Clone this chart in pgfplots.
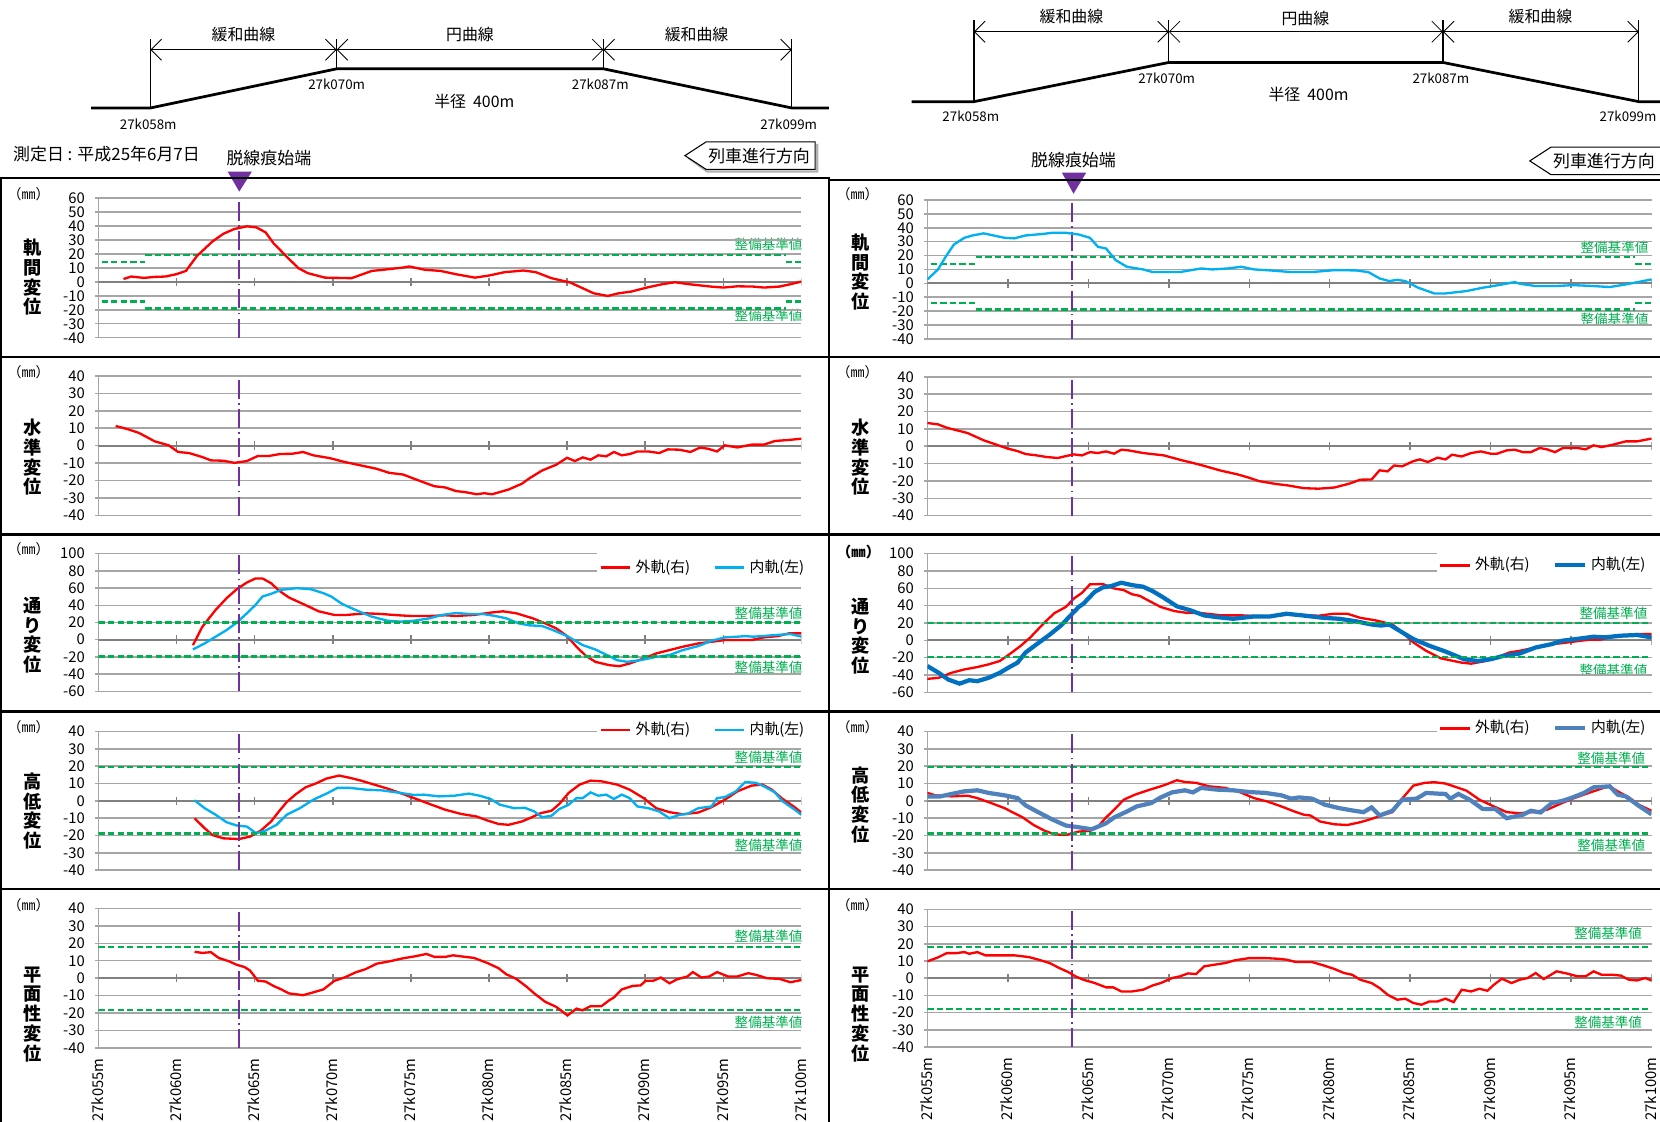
\documentclass[border=0pt]{standalone}
\usepackage{fontspec}
\setmainfont{Noto Sans CJK JP}
\usepackage{pgfplots}
\pgfplotsset{compat=1.18}
\usetikzlibrary{arrows.meta}

\definecolor{xred}{RGB}{255,0,0}
\definecolor{xcyan}{RGB}{0,176,240}
\definecolor{xblue}{RGB}{0,112,192}
\definecolor{xsteel}{RGB}{79,129,189}
\definecolor{xgreen}{RGB}{0,176,80}
\definecolor{xpurple}{RGB}{112,48,160}
\definecolor{xgrid}{RGB}{166,166,166}
\definecolor{xaxis}{RGB}{128,128,128}

\newcommand\fs[1]{\fontsize{#1}{#1}\selectfont}

\pgfplotsset{
  legend image code/.code={\draw[#1] (0pt,0pt) -- (14pt,0pt);},
  rail/.style={
    scale only axis, anchor=south west,
    xmin=55, xmax=100,
    axis y line*=left, axis x line*=bottom,
    x axis line style={draw=none},
    y axis line style={draw=xgrid, line width=0.7pt},
    xtick={55,60,...,100}, xticklabels={}, xtick style={draw=none},
    ymajorgrids, major grid style={draw=xgrid, line width=0.7pt},
    tick align=outside, major tick length=1.4pt,
    ytick style={draw=xgrid, line width=0.7pt},
    yticklabel style={font=\fs{7}, xshift=-1.5pt},
    /pgf/number format/assume math mode=true,
    legend style={draw=none, fill=white, font=\fs{7}, legend columns=2, anchor=east,
      /tikz/every even column/.append style={column sep=9pt}, inner sep=1pt},
  },
  bottomx/.style={
    xticklabels={27k055m,27k060m,27k065m,27k070m,27k075m,27k080m,27k085m,27k090m,27k095m,27k100m},
    xticklabel style={rotate=90, anchor=east, font=\fs{7}, yshift=0.5pt},
  },
  lim/.style={xgreen, line width=1.1pt, dash pattern=on 3pt off 1.5pt, forget plot},
  redl/.style={xred, line width=1.1pt},
}

\newcommand\zeroline{%
  \draw[draw=xaxis, line width=0.9pt] (axis cs:55,0) -- (axis cs:100,0);
  \pgfplotsinvokeforeach{60,65,...,100}{\draw[draw=xaxis, line width=0.7pt] (axis cs:##1,0) ++(0pt,-2pt) -- ++(0pt,4pt);}%
}
\newcommand\derail[3]{\draw[xpurple, line width=#3, dash pattern=on 9pt off 2pt on 0.8pt off 2pt] (axis cs:64,#1) -- (axis cs:64,#2);}

\begin{document}
\begin{tikzpicture}
\begin{scope}[x=0.5pt,y=-0.5pt]
\fill[white] (0,0) rectangle (1568,1059);

% ---------- track schematics ----------
\draw[line width=1.3pt] (86,102) -- (142,102) -- (318,65) -- (570,65) -- (748,102) -- (783,102);
\foreach \xx/\yy in {142/102,318/65,570/65,748/102} \draw[line width=0.5pt] (\xx,37) -- (\xx,\yy);
\draw[line width=0.4pt, {Straight Barb[length=5pt]}-{Straight Barb[length=5pt]}] (142,47) -- (318,47);
\draw[line width=0.4pt, {Straight Barb[length=5pt]}-{Straight Barb[length=5pt]}] (318,47) -- (570,47);
\draw[line width=0.4pt, {Straight Barb[length=5pt]}-{Straight Barb[length=5pt]}] (570,47) -- (748,47);
\node[font=\fs{7.5}] at (230,33) {緩和曲線};
\node[font=\fs{7.5}] at (444,33) {円曲線};
\node[font=\fs{7.5}] at (658,33) {緩和曲線};
\node[font=\fs{6.3}] at (140,117) {27k058m};
\node[font=\fs{6.3}] at (318,80) {27k070m};
\node[font=\fs{6.3}] at (567,80) {27k087m};
\node[font=\fs{6.3}] at (745,117) {27k099m};
\node[font=\fs{7.5}] at (448,96) {半径\ \ 400m};

\draw[line width=1.3pt] (861,96) -- (920,96) -- (1104,59) -- (1363,59) -- (1548,96) -- (1568,96);
\foreach \xx/\yy in {920/96,1104/59,1363/59,1548/96} \draw[line width=0.5pt] (\xx,19) -- (\xx,\yy);
\draw[line width=0.4pt, {Straight Barb[length=5pt]}-{Straight Barb[length=5pt]}] (920,30) -- (1104,30);
\draw[line width=0.4pt, {Straight Barb[length=5pt]}-{Straight Barb[length=5pt]}] (1104,30) -- (1363,30);
\draw[line width=0.4pt, {Straight Barb[length=5pt]}-{Straight Barb[length=5pt]}] (1363,30) -- (1548,30);
\node[font=\fs{7.5}] at (1012,16) {緩和曲線};
\node[font=\fs{7.5}] at (1233,17) {円曲線};
\node[font=\fs{7.5}] at (1455,16) {緩和曲線};
\node[font=\fs{6.3}] at (917,110) {27k058m};
\node[font=\fs{6.3}] at (1102,74) {27k070m};
\node[font=\fs{6.3}] at (1361,74) {27k087m};
\node[font=\fs{6.3}, anchor=east, inner sep=1pt] at (1567,110) {27k099m};
\node[font=\fs{7.5}] at (1236,89) {半径\ \ 400m};

% ---------- headings ----------
\node[font=\fs{8}, anchor=west, inner sep=0pt] at (12,146) {測定日 : 平成25年6月7日};
\node[font=\fs{8}] at (254,149) {脱線痕始端};
\node[font=\fs{8}] at (1014,151) {脱線痕始端};
\fill[xpurple] (215,162) -- (238,162) -- (226,181) -- cycle;
\fill[xpurple] (1003,163) -- (1026,163) -- (1014,183) -- cycle;
\draw[gray!60, line width=1pt] (650,149) -- (668,162) -- (772,162) -- (772,136);
\draw[fill=white, line width=0.5pt] (647,147) -- (667,134) -- (770,134) -- (770,160) -- (667,160) -- cycle;
\node[font=\fs{8}] at (717,147) {列車進行方向};
\draw[fill=white, line width=0.5pt] (1445,152) -- (1465,139) -- (1570,139) -- (1570,165) -- (1465,165) -- cycle;
\node[font=\fs{8}] at (1515,152) {列車進行方向};

% ---------- panel frames ----------
\draw[line width=1.1pt] (1,1062) -- (1,168) -- (783,168) -- (783,1062);
\draw[line width=1.1pt] (783,170) -- (1568,170);
\foreach \yy in {337,505,672,840} {\draw[line width=1.1pt] (1,\yy) -- (1568,\yy);}

% ---------- y labels ----------
\foreach \xx/\yy in {27/183,27/352,27/519,27/687,27/855,810/183,810/352,810/687,810/855}
  \node[font=\fs{6.6}] at (\xx,\yy) {（㎜）};
\node[font=\bfseries\fs{6.8}] at (811,521) {（㎜）};
\tikzset{ylab/.style={font=\bfseries\fontsize{8.6}{9.3}\selectfont, align=center, inner sep=0pt}}
\node[ylab] at (31,262) {軌\\間\\変\\位};
\node[ylab] at (31,432) {水\\準\\変\\位};
\node[ylab] at (31,600) {通\\り\\変\\位};
\node[ylab] at (31,766) {高\\低\\変\\位};
\node[ylab] at (31,958) {平\\面\\性\\変\\位};
\node[ylab] at (813,257) {軌\\間\\変\\位};
\node[ylab] at (813,432) {水\\準\\変\\位};
\node[ylab] at (813,601) {通\\り\\変\\位};
\node[ylab] at (813,760) {高\\低\\変\\位};
\node[ylab] at (813,958) {平\\面\\性\\変\\位};

% ---------- limit labels ----------
\foreach \xx/\yy in {726/231,726/298,726/579,726/630,726/715,726/798,726/884,726/966,
                     1525/234,1525/302,1524/579,1524/633,1522/716,1522/798,1519/882,1519/966}
  \node[font=\fs{6.4}, text=xgreen] at (\xx,\yy) {整備基準値};
\end{scope}

% ================= LEFT COLUMN =================
\begin{axis}[rail, at={(46.5pt,-159.5pt)}, width=332pt, height=66pt,
  ymin=-40, ymax=60, ytick={-40,-30,...,60}]
\zeroline
\addplot[lim] coordinates {(58,19) (99,19)};
\addplot[lim] coordinates {(58,-19) (99,-19)};
\addplot[lim] coordinates {(55.2,14) (58,14)};
\addplot[lim] coordinates {(99,14) (100,14)};
\addplot[lim] coordinates {(55.2,-14) (58,-14)};
\addplot[lim] coordinates {(99,-14) (100,-14)};
\derail{-40}{60}{0.6pt}
\addplot[redl] coordinates {(56.6,2) (57.1,3.8) (57.9,2.8) (58.6,3.5) (59.3,3.8) (60,5.5) (60.6,7.8) (61.3,18.4) (62.3,28.9) (63,34.4) (63.7,37.8) (64.5,39.7) (65.1,39) (65.7,35.4) (66.2,27.7) (67.1,17.4) (67.8,9.8) (68.4,6.2) (69.5,3) (71.2,2.6) (72.5,7.8) (73.2,8.6) (74.5,10.2) (74.9,11) (75.9,8.6) (76.9,7.8) (77.9,5.4) (79.1,3) (80,4.5) (81,6.9) (82.2,8.1) (83,6.9) (84,2.6) (85.2,-0.5) (86,-4.6) (86.7,-8.2) (87.6,-10.1) (88.3,-8.2) (89.1,-7) (90.1,-4.1) (91.1,-1.7) (91.9,-0.3) (92.8,-1.7) (94.2,-3.4) (95,-4.1) (95.9,-3.2) (96.9,-3.4) (97.6,-4.1) (98.6,-3.4) (99.3,-1.7) (100,0.2)};
\end{axis}

\begin{axis}[rail, at={(46.5pt,-243.5pt)}, width=332pt, height=66pt,
  ymin=-40, ymax=40, ytick={-40,-30,...,40}]
\zeroline
\derail{-40}{40}{0.6pt}
\addplot[redl] coordinates {(56.1,11.3) (56.9,9.4) (57.6,7.3) (58.6,2.5) (59.5,0.2) (60.1,-3.6) (60.8,-4.2) (61.65,-6.5) (62.2,-8.4) (63,-8.6) (63.7,-9.8) (64.5,-8.8) (65.2,-5.9) (65.9,-5.9) (66.6,-4.8) (67.4,-4.6) (68.1,-3.6) (68.75,-5.5) (69.8,-7.1) (70.8,-9.4) (71.8,-11.3) (72.8,-13.2) (73.6,-15.5) (74.5,-16.5) (75.2,-18.9) (75.8,-20.9) (76.5,-23.2) (77.2,-23.9) (77.9,-26) (78.5,-26.6) (79.2,-27.8) (79.7,-27.2) (80.2,-27.8) (81.25,-25.1) (82.1,-21.8) (82.6,-18.6) (83.4,-14.2) (84.3,-10.9) (85,-6.9) (85.5,-8.8) (86,-6.7) (86.5,-8) (87,-5.5) (87.5,-6.1) (88,-3.6) (88.5,-5.5) (89,-4.8) (89.5,-3.3) (90.2,-3.3) (90.9,-4.2) (91.45,-2.1) (92.2,-2.3) (92.9,-3.6) (93.5,-1.1) (94,-1.7) (94.6,-3.3) (95.1,0.2) (95.9,-1) (96.8,0.6) (97.6,0.6) (98.3,2.7) (99.2,3.3) (100,4)};
\end{axis}

\begin{axis}[rail, at={(46.5pt,-326.5pt)}, width=332pt, height=65pt,
  ymin=-60, ymax=100, ytick={-60,-40,...,100},
  legend style={at={(1.0136,0.9)}}]
\zeroline
\addplot[redl] coordinates {(61.05,-6.3) (61.65,15.1) (62.5,34.6) (63.2,48.2) (63.85,58.7) (64.5,66.5) (65.05,71.2) (65.5,71.2) (66.05,65.7) (66.55,57.2) (67.2,49) (67.9,43.2) (68.6,37.3) (69.1,33) (70.1,28.8) (70.9,28.8) (72.1,30.7) (73.1,29.9) (74.2,28.4) (75,27.6) (76.2,27.6) (77.2,28.4) (77.9,27.6) (79.05,28.8) (80.1,31.5) (80.9,33) (81.75,30.7) (82.8,24.9) (83.6,19) (84.3,13.2) (85,4.2) (85.6,-8.2) (86.15,-17.9) (86.8,-25.7) (87.7,-29.6) (88.35,-30.8) (89,-27.7) (89.9,-21.8) (90.7,-16) (91.55,-12.1) (92.4,-8.2) (93.4,-4.3) (94.25,-2.4) (95.1,-0.4) (96.8,-0.4) (97.6,2.7) (98.5,4.2) (99.2,7.4) (100,7.4)};
\addlegendentry{外軌(右)}
\addplot[xcyan, line width=1.1pt] coordinates {(61.05,-11.3) (61.8,-4.3) (62.5,3.5) (63.2,11.2) (63.85,19.8) (64.5,30.7) (65.05,40.4) (65.5,50.2) (66.05,53.3) (66.7,58) (67.7,59.9) (68.6,58.7) (69.4,54.1) (69.9,50.2) (70.6,41.6) (71.45,34.6) (72.5,26.8) (73.5,22.1) (74.3,21) (75.2,22.1) (76.2,24.9) (77,28.8) (77.9,31.1) (78.7,29.9) (79.6,29.9) (80.4,27.6) (81.1,24.9) (81.9,19) (82.6,16.7) (83.4,15.9) (84.1,11.2) (85,4.2) (86,-6.3) (86.8,-11.3) (87.7,-19.1) (88.2,-23.8) (88.85,-25.7) (89.7,-23.8) (90.7,-19.9) (91.55,-17.9) (92.4,-12.1) (93.4,-7.4) (94.25,-1.2) (95.1,2.7) (95.9,3.5) (96.4,4.2) (96.9,3.5) (97.5,4.2) (98.3,5.4) (99.3,6.6) (100,3.5)};
\addlegendentry{内軌(左)}
\addplot[lim] coordinates {(55,20) (100,20)};
\addplot[lim] coordinates {(55,-19.5) (100,-19.5)};
\derail{-60}{100}{0.6pt}
\end{axis}

\begin{axis}[rail, at={(46.5pt,-411pt)}, width=332pt, height=65.5pt,
  ymin=-40, ymax=40, ytick={-40,-30,...,40},
  legend style={at={(1.0136,1.011)}}]
\zeroline
\addplot[redl] coordinates {(61.15,-10) (61.8,-15.8) (62.3,-19.7) (63,-21.6) (64,-22) (64.7,-20.6) (65.4,-17.1) (66.05,-11.9) (66.55,-6.1) (67.05,-0.7) (67.6,3.6) (68.25,7.8) (68.9,10) (69.6,12.9) (70.4,14.6) (71.1,13.3) (71.8,11.7) (72.5,9.8) (73.5,7.1) (74.3,4.6) (75.2,1.6) (76.2,-1.8) (77.2,-5.1) (78.2,-7.5) (79.2,-9) (79.9,-11.3) (80.6,-13.3) (81.25,-13.8) (82.1,-11.9) (82.6,-10) (83.3,-7.1) (84,-5.7) (84.5,-1.8) (85.1,4.6) (85.8,9.4) (86.5,11.7) (87.2,11.3) (88.2,9.4) (89,6.5) (89.9,1.6) (90.7,-4.2) (91.55,-6.5) (92.4,-7.7) (93.4,-6.7) (94.25,-3.6) (95.1,0.7) (95.9,5.5) (96.8,8.8) (97.5,9.4) (98.1,6.5) (98.8,1.1) (99.5,-3.2) (100,-6.7)};
\addlegendentry{外軌(右)}
\addplot[xcyan, line width=1.1pt] coordinates {(61.15,0.3) (61.8,-4.2) (62.5,-8) (63.2,-12.3) (63.85,-14.2) (64.5,-14.8) (65.1,-18.7) (65.7,-17.1) (66.4,-13.8) (67.05,-8) (67.9,-4.2) (68.75,0.7) (69.6,4.2) (70.3,7.5) (71.1,7.5) (72.1,6.5) (73.1,6.1) (74.1,4.9) (75.2,3.4) (75.8,3.6) (76.8,2.6) (77.8,3) (78.7,4.2) (79.4,3) (80.1,1.1) (80.7,-2.2) (81.6,-4.2) (82.3,-4) (82.9,-6.1) (83.4,-9.4) (84,-8.6) (84.5,-4.7) (85.1,-2.2) (85.6,1.6) (86,1.6) (86.5,4.9) (87,3) (87.5,3.6) (88,1.1) (88.5,3.6) (89,1.6) (89.5,-3.2) (90.2,-4.2) (90.9,-6.1) (91.55,-10) (92.2,-8) (92.7,-7.5) (93.4,-4.2) (94.25,-3.2) (94.6,1.6) (95.1,2.2) (95.8,5.5) (96.4,10.9) (97.1,10.4) (97.6,8.4) (98.3,4.9) (98.8,-0.3) (99.5,-4.6) (100,-8)};
\addlegendentry{内軌(左)}
\addplot[lim] coordinates {(55,19.5) (100,19.5)};
\addplot[lim] coordinates {(55,-18.8) (100,-18.8)};
\derail{-40}{40}{0.6pt}
\end{axis}

\begin{axis}[rail, bottomx, at={(46.5pt,-495pt)}, width=332pt, height=66pt,
  ymin=-40, ymax=40, ytick={-40,-30,...,40}]
\zeroline
\addplot[lim] coordinates {(55,18) (100,18)};
\addplot[lim] coordinates {(55,-18) (100,-18)};
\derail{-40}{40}{0.6pt}
\addplot[redl] coordinates {(61.15,15.1) (61.65,14.5) (62.2,14.9) (62.7,11.6) (63.35,9.7) (63.85,7.7) (64.35,6.4) (64.7,4.4) (65.2,-1.4) (65.7,-1.9) (66.2,-4.4) (66.7,-6.4) (67.2,-8.7) (68.1,-9.7) (68.75,-8.1) (69.4,-6.4) (70.1,-1.5) (70.8,0.6) (71.45,3.3) (72.1,5.2) (72.8,8.3) (73.65,9.7) (74.5,11.4) (75.3,12.6) (76,13.9) (76.5,12.2) (77.2,12.2) (77.7,13.1) (78.5,12.2) (79.05,11.6) (79.9,8.7) (80.6,5.8) (81.1,2.3) (81.75,-0.4) (82.4,-4.8) (82.9,-8.7) (83.6,-13.5) (84.3,-16.4) (85.03,-21.3) (85.6,-17.4) (85.98,-18.4) (86.5,-16) (87.2,-16) (87.7,-12.6) (88,-11) (88.5,-6.4) (89.2,-4.4) (89.7,-4.1) (90.05,-1.4) (90.5,-1.5) (91,0.4) (91.55,-2.9) (92.05,-0.6) (92.7,1) (93.05,3.5) (93.6,0.4) (94.1,1) (94.6,3.5) (95.3,1) (95.9,1) (96.6,2.9) (97.1,1.9) (97.8,0) (98.6,-0.4) (99.3,-2.3) (100,-1)};
\end{axis}

% ================= RIGHT COLUMN =================
\begin{axis}[rail, at={(438pt,-160pt)}, width=342pt, height=65.5pt,
  ymin=-40, ymax=60, ytick={-40,-30,...,60}]
\zeroline
\addplot[lim] coordinates {(58,19) (99,19)};
\addplot[lim] coordinates {(58,-19) (99,-19)};
\addplot[lim] coordinates {(55.2,14) (58,14)};
\addplot[lim] coordinates {(99,14) (100,14)};
\addplot[lim] coordinates {(55.2,-14) (58,-14)};
\addplot[lim] coordinates {(99,-14) (100,-14)};
\derail{-40}{60}{1.1pt}
\addplot[xcyan, line width=1.1pt] coordinates {(55,2.8) (55.66,10) (56.16,19.6) (56.65,28) (57.3,32.8) (57.8,34.5) (58.5,36) (59.1,34.5) (59.8,32.8) (60.4,32.4) (61.1,34.5) (62.1,35.5) (62.76,36.4) (63.6,36.4) (64.4,35.2) (65.1,32.8) (65.6,26.3) (66.1,25.1) (66.7,16.7) (67.4,11.9) (68.4,10) (69,8.1) (70.7,8.1) (72,10.7) (72.7,10) (73.65,10.7) (74.5,11.9) (75.3,10) (76.3,9.3) (77.6,8.1) (78.9,8.1) (80.3,9.5) (81.6,9.3) (82.4,8.1) (83.1,3.5) (83.7,1.6) (84.2,2.5) (84.7,1.6) (85.5,-3.2) (86.5,-7.3) (87.2,-7.3) (88.5,-5.6) (89.5,-3.2) (90.5,-1.3) (91.5,0.9) (91.8,-0.3) (92.8,-2) (94.1,-2) (95.1,-1.3) (96.4,-2) (97.4,-2.7) (98.4,-0.8) (100,2.8)};
\end{axis}

\begin{axis}[rail, at={(438pt,-243.5pt)}, width=342pt, height=65.5pt,
  ymin=-40, ymax=40, ytick={-40,-30,...,40}]
\zeroline
\derail{-40}{40}{1.1pt}
\addplot[redl] coordinates {(55,13.4) (55.66,12.6) (56.2,10.7) (57.5,7.6) (58.5,3.4) (59.1,1.5) (60,-1.4) (60.6,-2.8) (61.1,-4.5) (61.8,-5.3) (62.4,-6.2) (63.1,-6.8) (63.6,-5.7) (64.1,-4.7) (64.6,-5.3) (65.1,-3.4) (65.6,-3.9) (66.1,-3) (66.6,-4.3) (67.05,-2) (67.5,-2.4) (68.4,-3.9) (69.7,-5.3) (70.85,-8.2) (71.7,-10.1) (72.3,-11.6) (73.2,-14) (74.3,-16.3) (75,-18.2) (75.6,-20.1) (76.6,-21.7) (77.4,-22.6) (78.4,-24.2) (79.3,-24.5) (80.3,-23.8) (81.25,-21.5) (81.9,-19.3) (82.6,-19.2) (83.1,-13.9) (83.6,-14.5) (84,-11.1) (84.5,-11.6) (85.2,-8.6) (85.6,-7.6) (86.1,-9.1) (86.7,-6.6) (87.2,-7.6) (87.6,-4.9) (88.2,-5.9) (88.8,-3.9) (89.4,-3) (90,-4.3) (90.4,-4.3) (91,-2.4) (91.5,-2) (92,-3.4) (92.5,-3.4) (93.05,-1) (93.5,-1.8) (94,-3.4) (94.5,-1) (95.4,-1) (95.9,-1.8) (96.4,0.5) (96.9,-0.5) (97.6,0.9) (98.4,2.8) (99.1,2.8) (100,4.4)};
\end{axis}

\begin{axis}[rail, at={(438pt,-327pt)}, width=342pt, height=65.5pt,
  ymin=-60, ymax=100, ytick={-60,-40,...,100},
  legend style={at={(1.001,0.916)}}]
\zeroline
\addplot[redl] coordinates {(55,-44.4) (55.7,-43.2) (56.5,-37.4) (57.3,-33.5) (58.1,-30.8) (58.8,-27.7) (59.5,-23.8) (60.1,-16) (60.8,-6.3) (61.4,3.5) (62.3,21) (62.9,31.5) (63.6,38.5) (64.1,48.2) (64.6,54.8) (65.1,64.6) (65.9,65) (66.6,59.9) (67.2,58) (67.7,53.3) (68.2,51.3) (68.7,46.3) (69.5,38.5) (70.35,33.8) (71.2,31.5) (72,31.5) (73.3,28.8) (74.6,28.8) (76,27.6) (77.6,29.9) (79.3,28.4) (80.25,30.7) (81.1,30.7) (81.9,26) (82.9,22.9) (83.9,18.3) (84.5,9.3) (85.2,-2.4) (86,-12.1) (86.9,-20.7) (87.5,-23) (88.2,-25.7) (88.8,-26.9) (89.7,-23.8) (90.65,-17.9) (91.15,-14) (91.8,-12.1) (92.8,-8.2) (93.8,-4.3) (94.45,-3.2) (95.1,-1.6) (96.1,0.7) (96.8,0.7) (97.4,3.5) (98.4,5.4) (99.1,7.4) (100,7.4)};
\addlegendentry{外軌(右)}
\addplot[xblue, line width=2pt] coordinates {(55,-29.6) (55.7,-37.4) (56.3,-45.2) (57,-49.9) (57.6,-46) (58.1,-47.1) (58.8,-43.2) (59.5,-37.4) (60.1,-30.8) (60.6,-25.7) (61.1,-14) (61.8,-4.3) (62.6,6.6) (63.3,17.1) (63.9,28.8) (64.4,38.5) (64.7,42.4) (65.4,56) (65.9,61.1) (66.4,62.6) (67.05,66.5) (67.7,63.8) (68.4,61.9) (69,56.8) (69.7,49) (70.5,39.3) (71.35,34.6) (72.2,28.8) (73,26.8) (74,24.9) (75.3,27.6) (76.3,27.6) (77.3,30.7) (78.3,28.8) (79.6,26) (80.6,24.9) (81.6,22.1) (82.6,18.3) (83.2,17.1) (83.7,18.3) (84.5,9.3) (85.2,1.5) (86.2,-6.3) (87.2,-12.9) (87.85,-17.9) (88.35,-21.8) (89.2,-23.8) (90,-21.8) (90.8,-17.9) (91.8,-15.2) (92.8,-8.2) (93.8,-4.3) (94.45,-0.4) (95.3,1.5) (96.4,4.2) (97.1,3.5) (98.1,5.4) (99.1,6.2) (100,3.5)};
\addlegendentry{内軌(左)}
\addplot[lim] coordinates {(55,20) (100,20)};
\addplot[lim] coordinates {(55,-19.5) (100,-19.5)};
\derail{-60}{100}{1.1pt}
\end{axis}

\begin{axis}[rail, at={(438pt,-411pt)}, width=342pt, height=65.5pt,
  ymin=-40, ymax=40, ytick={-40,-30,...,40},
  legend style={at={(1.001,1.023)}}]
\zeroline
\addplot[redl] coordinates {(55,4.6) (55.5,3.2) (56.5,2.6) (57.5,3) (58.1,1.6) (58.8,-0.7) (59.8,-4.2) (60.4,-7.1) (60.9,-9.4) (61.6,-13.9) (62.3,-17.3) (62.9,-19.3) (63.6,-19.7) (64.4,-17.7) (65.1,-17.3) (65.6,-14.8) (66.1,-9.6) (66.7,-4.2) (67.2,0.7) (67.9,3.6) (68.7,6.1) (69.7,9) (70.5,11.9) (71,10.9) (71.7,10.4) (72.5,8.4) (73.5,7.5) (74.3,5.5) (75.3,1.6) (76.1,-0.3) (77,-3.2) (77.8,-6.1) (78.4,-8) (78.8,-8.4) (79.4,-11.9) (80.3,-13.5) (81.1,-13.9) (81.9,-12.3) (82.6,-10.4) (83.2,-8.4) (83.9,-6.5) (84.5,1.3) (85.2,8.8) (85.9,10.4) (86.5,10.8) (87.2,10) (88,7.5) (88.5,5.9) (89.3,0.7) (90.2,-3.2) (91,-6.5) (91.8,-7.1) (92.6,-6.5) (93.5,-5.1) (94.3,-1.8) (95.1,1.3) (96.1,4.6) (96.9,7.1) (97.4,8.4) (97.9,5.5) (98.6,2) (99.2,-2.2) (100,-5.7)};
\addlegendentry{外軌(右)}
\addplot[xsteel, line width=2pt] coordinates {(55,2.6) (55.8,2.6) (56.5,4) (57.3,5.5) (58.1,6.1) (58.8,4.6) (59.8,3.2) (60.6,1.6) (61.1,-2.6) (61.8,-6.1) (62.8,-10.9) (63.6,-14.2) (64.4,-15.2) (65.2,-16.4) (66.1,-12.9) (66.6,-9.6) (67.4,-6.1) (68,-3.2) (68.9,-1.3) (69.5,2) (70.2,4.9) (71,6.1) (71.5,4.9) (72,7.5) (73,6.5) (74,6.1) (75,5.1) (76,4.6) (77,3.2) (77.6,1.3) (78.1,2) (78.9,1.3) (79.7,-2.2) (80.6,-4.2) (81.4,-5.5) (82.1,-6.5) (82.6,-3.8) (83.1,-8.4) (83.9,-5.7) (84.5,0.7) (85.4,1.3) (86,4.6) (86.7,4.2) (87.2,4) (87.5,1.3) (88,4) (88.7,0.7) (89.5,-4.6) (90.3,-4.7) (91,-10) (92,-8) (92.5,-5.7) (93.1,-6.7) (93.8,-1.3) (94.5,0.1) (95.1,2) (95.8,4.6) (96.4,7.8) (97.4,8.4) (97.9,3.6) (98.4,2.6) (99.2,-2.8) (100,-7.7)};
\addlegendentry{内軌(左)}
\addplot[lim] coordinates {(55,19.5) (100,19.5)};
\addplot[lim] coordinates {(55,-18.9) (100,-18.9)};
\derail{-40}{40}{1.1pt}
\end{axis}

\begin{axis}[rail, bottomx, at={(438pt,-494.5pt)}, width=342pt, height=65pt,
  ymin=-40, ymax=40, ytick={-40,-30,...,40}]
\zeroline
\addplot[lim] coordinates {(55,18) (100,18)};
\addplot[lim] coordinates {(55,-18) (100,-18)};
\derail{-40}{40}{1.1pt}
\addplot[redl] coordinates {(55,9.8) (55.66,12.1) (56.2,14.6) (56.8,14.6) (57.3,15.2) (57.6,14.2) (58.1,15.2) (58.6,13.3) (59.5,13.3) (60.4,13.3) (61.3,12.3) (61.9,10.8) (62.6,8.8) (63.2,5.9) (63.75,3.6) (64.2,1.1) (64.7,-0.9) (65.4,-2.8) (66.1,-5.3) (66.55,-5.3) (67.05,-7.7) (67.7,-7.7) (68.4,-6.7) (69,-4.2) (69.5,-2.8) (70.2,0.1) (70.7,1.1) (71.2,2.8) (71.7,2.4) (72.2,6.9) (72.8,7.8) (73.5,8.8) (74.1,10.4) (75,11.7) (76,11.7) (76.8,11.3) (77.3,10.8) (77.9,9.4) (78.9,9.4) (79.6,7.5) (80.25,5.5) (80.9,3) (81.4,2) (81.9,-0.9) (82.6,-2.8) (83.1,-5.7) (83.6,-9.6) (84.2,-12.5) (84.7,-11.9) (85.2,-14.4) (85.7,-15.4) (86.2,-13.5) (86.7,-13.5) (87.2,-11.9) (87.7,-13.9) (88.2,-6.7) (88.8,-7.7) (89.3,-6.1) (89.8,-7.3) (90.2,-3.8) (90.7,-0.3) (91.3,-2.8) (91.8,-0.9) (92.3,0.1) (92.8,3) (93.3,-0.5) (94.1,4) (94.8,2.6) (95.4,1.1) (95.9,1.1) (96.4,4) (96.9,2) (97.6,2) (98.1,1.5) (98.6,-0.9) (99.1,-1.3) (99.6,0.1) (100,-1.3)};
\end{axis}

\pgfresetboundingbox
\useasboundingbox (0pt,0pt) rectangle (784pt,-529.5pt);
\end{tikzpicture}
\end{document}
